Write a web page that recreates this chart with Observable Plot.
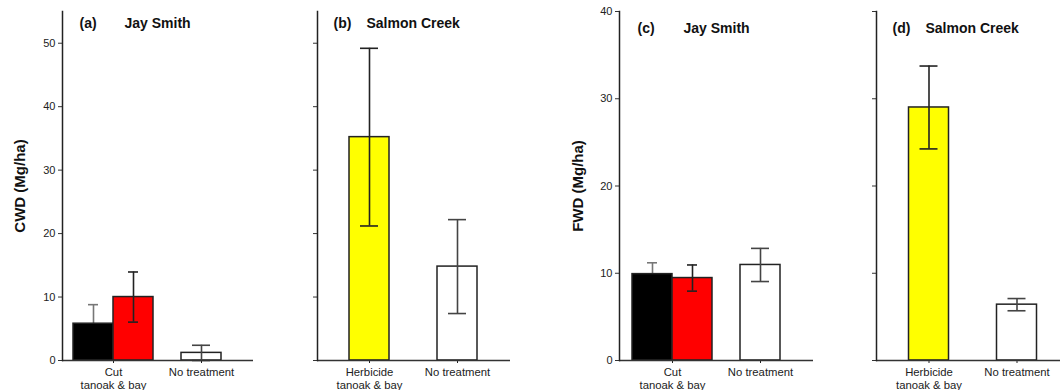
<!DOCTYPE html>
<html><head><meta charset="utf-8">
<script src="https://cdn.jsdelivr.net/npm/d3@7"></script>
<script src="https://cdn.jsdelivr.net/npm/@observablehq/plot@0.6"></script>
<style>
html,body{margin:0;padding:0;background:#fff;}
#chart{position:relative;width:1062px;height:390px;overflow:hidden;background:#fff;}
#chart > svg, #chart > figure{position:absolute;top:0;margin:0;}
</style></head><body><div id="chart"></div>
<script>
// ---- data ----
const jayGroups = ["Cut\ntanoak & bay", "Cut\ntanoak & bay", "No treatment"];
const jaySeries = ["cut-black", "cut-red", "control"];
const salmonGroups = ["Herbicide\ntanoak & bay", "No treatment"];
const salmonSeries = ["herbicide", "control"];

const cwdJayMean = [5.8, 10.0, 1.2];
const cwdJayErr = [3.0, 3.95, 1.2];
const cwdSalmonMean = [35.2, 14.8];
const cwdSalmonErr = [14.0, 7.4];
const fwdJayMean = [9.9, 9.45, 10.95];
const fwdJayErr = [1.3, 1.5, 1.9];
const fwdSalmonMean = [29.0, 6.4];
const fwdSalmonErr = [4.75, 0.7];

const cwdTicks = [0, 10, 20, 30, 40, 50];
const fwdTicks = [0, 10, 20, 30, 40];

// ---- styles ----
const FONT = '"Liberation Sans", Arial, sans-serif';
const seriesStyle = {
  "cut-black": {fill: "#000000", bar: {insetRight: 40}, dx: -20, cap: {insetLeft: 15, insetRight: 55}, err: "#777", behind: true},
  "cut-red":   {fill: "#ff0000", bar: {insetLeft: 40},  dx: 20,  cap: {insetLeft: 55, insetRight: 15}, err: "#222"},
  "control":   {fill: "#ffffff", bar: {insetLeft: 20, insetRight: 20}, dx: 0, cap: {insetLeft: 31, insetRight: 31}, err: "#444"},
  "herbicide": {fill: "#ffff00", bar: {insetLeft: 20, insetRight: 20}, dx: 0, cap: {insetLeft: 31, insetRight: 31}, err: "#222"}
};

function panel(cfg) {
  const rows = cfg.series.map((s, i) => ({
    group: cfg.groups[i], series: s, mean: cfg.mean[i],
    lo: Math.max(0, cfg.mean[i] - cfg.err[i]), hi: cfg.mean[i] + cfg.err[i]
  }));
  const errMarks = (r) => {
    const st = seriesStyle[r.series];
    return [
      Plot.ruleX([r], {x: "group", y1: "lo", y2: "hi", dx: st.dx, stroke: st.err, strokeWidth: 1.6}),
      Plot.tickY([r], {x: "group", y: "hi", stroke: st.err, strokeWidth: 1.6, ...st.cap}),
      Plot.tickY([r], {x: "group", y: "lo", stroke: st.err, strokeWidth: 1.6, ...st.cap})
    ];
  };
  const marks = [];
  for (const r of rows) if (seriesStyle[r.series].behind) marks.push(...errMarks(r));
  for (const r of rows) {
    const st = seriesStyle[r.series];
    marks.push(Plot.barY([r], {x: "group", y: "mean", fill: st.fill, stroke: "#222", strokeWidth: 1.5, ...st.bar}));
  }
  for (const r of rows) if (!seriesStyle[r.series].behind) marks.push(...errMarks(r));
  marks.push(Plot.axisY(cfg.ticks, {
    tickSize: 4, tickPadding: 3, fontSize: 11, label: null, stroke: "#333", color: "#222",
    tickFormat: cfg.showTickLabels ? (d => String(d)) : (() => "")
  }));
  marks.push(Plot.axisX({tickSize: 3, tickPadding: 4, fontSize: 11.3, label: null, lineHeight: 1.1, color: "#222"}));
  marks.push(Plot.ruleY([0], {stroke: "#333", strokeWidth: 1.5}));
  marks.push(Plot.frame({anchor: "left", stroke: "#222", strokeWidth: 1.5}));
  marks.push(Plot.text([cfg.tag], {text: d => d, frameAnchor: "top-left", textAnchor: "start", lineAnchor: "top",
    dx: cfg.tagDx, dy: cfg.titleDy, fontWeight: "bold", fontSize: 14, fill: "#111"}));
  marks.push(Plot.text([cfg.site], {text: d => d, frameAnchor: "top-left", textAnchor: "start", lineAnchor: "top",
    dx: cfg.siteDx, dy: cfg.titleDy, fontWeight: "bold", fontSize: 14, fill: "#111"}));
  if (cfg.yLabel) {
    marks.push(Plot.text([cfg.yLabel], {text: d => d, frameAnchor: "left", rotate: -90, dx: cfg.yLabelDx,
      textAnchor: "middle", lineAnchor: "middle", fontWeight: "bold", fontSize: 15, fill: "#111"}));
  }
  const svg = Plot.plot({
    width: cfg.width, height: 390,
    marginLeft: cfg.marginLeft, marginRight: cfg.marginRight, marginTop: 11, marginBottom: 30,
    x: {type: "band", domain: Array.from(new Set(cfg.groups)), range: cfg.bandRange,
        paddingInner: 8 / 88, paddingOuter: 0, round: false, label: null},
    y: {domain: cfg.yDomain, label: null},
    style: {fontFamily: FONT, background: "transparent", overflow: "visible", color: "#222"},
    marks
  });
  svg.style.left = cfg.left + "px";
  document.getElementById("chart").appendChild(svg);
}

panel({left: 0, width: 260, marginLeft: 62, marginRight: 7, bandRange: [73, 241],
  groups: jayGroups, series: jaySeries, mean: cwdJayMean, err: cwdJayErr,
  yDomain: [0, 55], ticks: cwdTicks, showTickLabels: true, yLabel: "CWD (Mg/ha)", yLabelDx: -42,
  tag: "(a)", site: "Jay Smith", tagDx: 17, siteDx: 62, titleDy: 7});
panel({left: 260, width: 255, marginLeft: 57, marginRight: 5, bandRange: [69, 237],
  groups: salmonGroups, series: salmonSeries, mean: cwdSalmonMean, err: cwdSalmonErr,
  yDomain: [0, 55], ticks: cwdTicks, showTickLabels: false,
  tag: "(b)", site: "Salmon Creek", tagDx: 16, siteDx: 49, titleDy: 7});
panel({left: 540, width: 275, marginLeft: 79, marginRight: 2, bandRange: [92, 260],
  groups: jayGroups, series: jaySeries, mean: fwdJayMean, err: fwdJayErr,
  yDomain: [0, 40], ticks: fwdTicks, showTickLabels: true, yLabel: "FWD (Mg/ha)", yLabelDx: -41,
  tag: "(c)", site: "Jay Smith", tagDx: 18, siteDx: 64, titleDy: 12});
panel({left: 815, width: 247, marginLeft: 61, marginRight: 2, bandRange: [73.5, 241.5],
  groups: salmonGroups, series: salmonSeries, mean: fwdSalmonMean, err: fwdSalmonErr,
  yDomain: [0, 40], ticks: fwdTicks, showTickLabels: false,
  tag: "(d)", site: "Salmon Creek", tagDx: 16, siteDx: 49, titleDy: 12});
</script>
</body></html>
